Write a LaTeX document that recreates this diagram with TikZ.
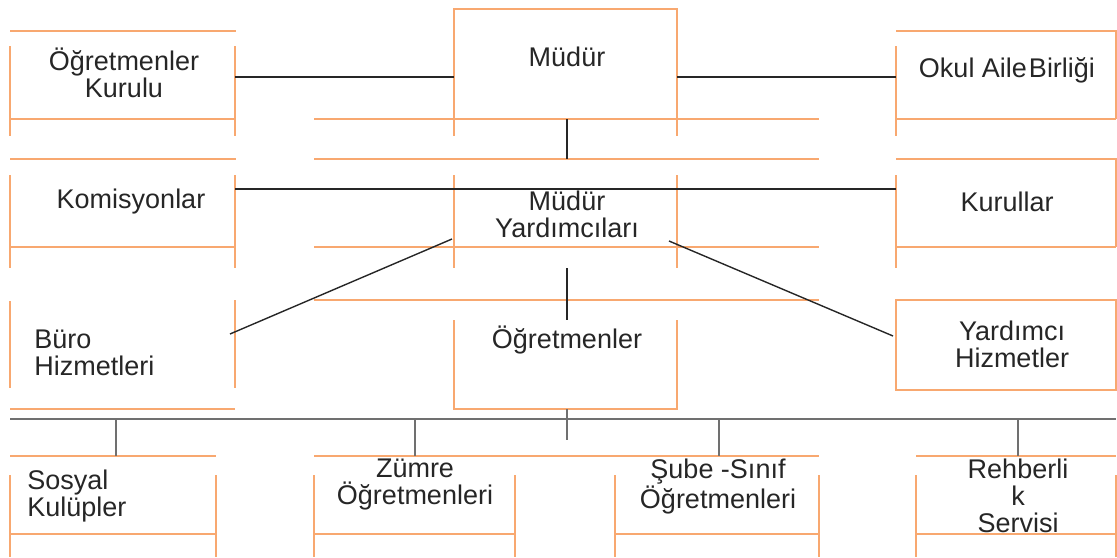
\documentclass[tikz,border=0pt]{standalone}
\usepackage{fontspec}
\setmainfont{Liberation Sans}
\usepackage{tikz}
\definecolor{boxline}{RGB}{248,168,112}
\definecolor{busline}{RGB}{112,112,112}
\tikzset{
  frame/.style={line width=1pt, color=boxline},
  link/.style={line width=0.7pt, color=black!85},
  bus/.style={line width=1.3pt, color=busline},
  label/.style={inner sep=0pt, align=center, text=black!85,
    font=\fontsize{13.5}{13.5}\selectfont},
}

\begin{document}
\begin{tikzpicture}[x=0.5pt, y=-0.5pt]
			%%%%% START %%%%%
			\useasboundingbox (0, 0) rectangle (1117, 557);
			
			% Ogretmenler Kurulu
			\draw[frame] (10, 31) -- (236, 31);
			\draw[frame] (10, 46) -- (10, 136);
			\draw[frame] (235, 46) -- (235, 136);
			\draw[frame] (10, 119) -- (235, 119);
			\node[label] (kurulu) at (124, 73) {Öğretmenler\\Kurulu};
			
			% Mudur
			\draw[frame] (454, 136) -- (454, 9) -- (677, 9) -- (677, 136);
			\draw[frame] (314, 119) -- (819, 119);
			\draw[frame] (314, 159) -- (819, 159);
			\node[label] (mudur) at (567, 57) {Müdür};
			
			% Okul Aile Birligi
			\draw[frame] (896, 31) -- (1116, 31) -- (1116, 119);
			\draw[frame] (896, 46) -- (896, 136);
			\draw[frame] (896, 119) -- (1116, 119);
			\node[label] (aile) at (1007, 70) {Okul Aile\hspace{1pt}Birliği};
			
			% Komisyonlar
			\draw[frame] (10, 159) -- (236, 159);
			\draw[frame] (10, 175) -- (10, 268);
			\draw[frame] (235, 175) -- (235, 268);
			\draw[frame] (10, 247) -- (235, 247);
			\node[label] (komisyon) at (131, 202) {Komisyonlar};
			
			% Mudur Yardimcilari
			\draw[frame] (454, 175) -- (454, 268);
			\draw[frame] (677, 175) -- (677, 268);
			\draw[frame] (314, 247) -- (819, 247);
			\node[label] (yardimci) at (567, 214) {Müdür\\Yardımcıları};
			
			% Kurullar
			\draw[frame] (896, 159) -- (1116, 159) -- (1116, 247);
			\draw[frame] (896, 175) -- (896, 268);
			\draw[frame] (896, 247) -- (1116, 247);
			\node[label] (kurullar) at (1007, 202) {Kurullar};
			
			% Buro Hizmetleri
			\draw[frame] (10, 301) -- (10, 388);
			\draw[frame] (235, 300) -- (235, 388);
			\draw[frame] (10, 409) -- (235, 409);
			\node[label, align=left, anchor=west] (buro) at (34, 352.5) {Büro\\Hizmetleri};
			
			% Ogretmenler
			\draw[frame] (314, 300) -- (819, 300);
			\draw[frame] (454, 320) -- (454, 409) -- (677, 409) -- (677, 320);
			\node[label] (ogretmen) at (567, 340) {Öğretmenler};
			
			% Yardimci Hizmetler
			\draw[frame] (896, 300) rectangle (1116, 390);
			\node[label] (hizmet) at (1012, 344.5) {Yardımcı\\Hizmetler};
			
			% Sosyal Kulupler
			\draw[frame] (10, 456) -- (216, 456);
			\draw[frame] (10, 475) -- (10, 557);
			\draw[frame] (216, 475) -- (216, 557);
			\draw[frame] (10, 534) -- (216, 534);
			\node[label, align=left, anchor=west] (sosyal) at (27, 496.5) {Sosyal\\Kulüpler};
			
			% Zumre Ogretmenleri
			\draw[frame] (314, 456) -- (819, 456);
			\draw[frame] (314, 475) -- (314, 557);
			\draw[frame] (515, 475) -- (515, 557);
			\draw[frame] (314, 534) -- (515, 534);
			\node[label] (zumre) at (415, 485) {Zümre\\Öğretmenleri};
			
			% Sube-Sinif Ogretmenleri
			\draw[frame] (615, 475) -- (615, 557);
			\draw[frame] (819, 475) -- (819, 557);
			\draw[frame] (615, 534) -- (819, 534);
			\node[label] (sube) at (718, 486.5) {Şube -Sınıf\\Öğretmenleri};
			
			% Rehberlik Servisi
			\draw[frame] (916, 456) -- (1116, 456);
			\draw[frame] (916, 475) -- (916, 557);
			\draw[frame] (1116, 475) -- (1116, 557);
			\draw[frame] (916, 534) -- (1116, 534);
			\node[label] (rehber) at (1018, 496) {Rehberli\\k\\Servisi};
			
			% connectors
			\coordinate (kurulu-e) at (235, 77);
			\coordinate (mudur-w) at (454, 77);
			\coordinate (mudur-e) at (677, 77);
			\coordinate (aile-w) at (896, 77);
			\coordinate (mudur-s) at (567, 119);
			\coordinate (yardimci-n) at (567, 159);
			\coordinate (komisyon-e) at (235, 189);
			\coordinate (kurullar-w) at (896, 189);
			\coordinate (yardimci-sw) at (452, 239);
			\coordinate (buro-e) at (230, 334);
			\coordinate (yardimci-se) at (669, 241);
			\coordinate (hizmet-w) at (893, 336);
			\coordinate (yardimci-s) at (567, 268);
			\coordinate (ogretmen-n) at (567, 320);
			\coordinate (ogretmen-s) at (567, 409);
			\coordinate (ogretmen-t) at (567, 440);
			
			\draw[link] (kurulu-e) -- (mudur-w);
			\draw[link] (mudur-e) -- (aile-w);
			\draw[link] (mudur-s) -- (yardimci-n);
			\draw[link] (komisyon-e) -- (kurullar-w);
			\draw[link] (yardimci-sw) -- (buro-e);
			\draw[link] (yardimci-se) -- (hizmet-w);
			\draw[link] (yardimci-s) -- (ogretmen-n);
			
			% bus
			\coordinate (bus-w) at (10, 419);
			\coordinate (bus-e) at (1116, 419);
			\draw[bus] (bus-w) -- (bus-e);
			\draw[bus, line width=0.9pt] (ogretmen-s) -- (ogretmen-t);
			\foreach \x in {116, 415, 719, 1018}
				\draw[bus, line width=0.9pt] (\x, 419) -- (\x, 456);
			
			%%%%% END %%%%%
\end{tikzpicture}
\end{document}
